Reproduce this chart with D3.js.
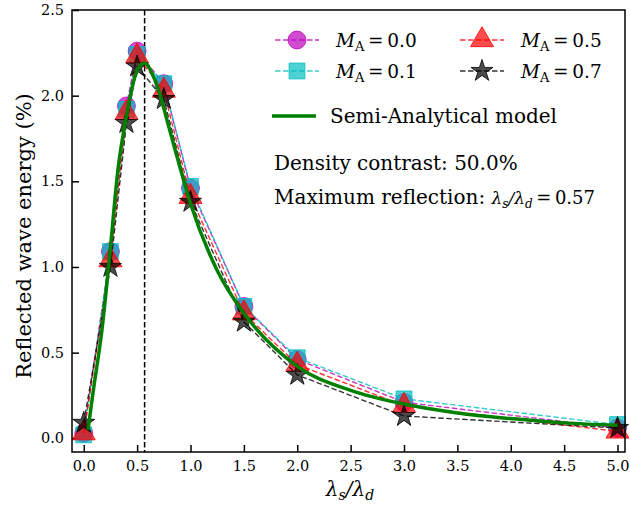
<!DOCTYPE html>
<html>
<head>
<meta charset="utf-8">
<script src="https://cdn.jsdelivr.net/npm/d3@7"></script>
<style>
  body { margin: 0; background: #fff; }
  svg text { font-family: "DejaVu Serif", serif; fill: #000; }
</style>
</head>
<body>
<div id="chart"></div>
<script>
// ---- data ----
const xs = [0.0, 0.25, 0.4, 0.5, 0.75, 1.0, 1.5, 2.0, 3.0, 5.0];

const ma00 = [0.03, 1.09, 1.94, 2.26, 2.07, 1.46, 0.77, 0.46, 0.21, 0.06];
const ma01 = [0.02, 1.09, 1.92, 2.24, 2.07, 1.47, 0.77, 0.47, 0.23, 0.08];
const ma05 = [0.03, 1.04, 1.90, 2.23, 2.03, 1.41, 0.73, 0.43, 0.19, 0.04];
const ma07 = [0.09, 1.00, 1.84, 2.17, 1.98, 1.38, 0.68, 0.37, 0.13, 0.06];

// semi-analytical model curve
const modelX = [0.04, 0.09, 0.17, 0.245, 0.32, 0.40, 0.48, 0.565, 0.68, 0.805, 0.90, 1.0, 1.25, 1.5, 2.0, 2.5, 3.0, 3.5, 4.0, 4.5, 5.0];
const modelY = [0.05, 0.28, 0.63, 1.08, 1.565, 1.88, 2.11, 2.19, 2.07, 1.80, 1.585, 1.37, 0.98, 0.73, 0.42, 0.28, 0.20, 0.148, 0.115, 0.09, 0.076];

const peakX = 0.57;
const xTicks = [0, 0.5, 1, 1.5, 2, 2.5, 3, 3.5, 4, 4.5, 5];
const yTicks = [0, 0.5, 1, 1.5, 2, 2.5];

const series = [
  { label: '0.0', values: ma00, color: '#bf00bf', symbol: d3.symbolCircle, size: 250 },
  { label: '0.1', values: ma01, color: '#00bfbf', symbol: d3.symbolSquare, size: 250 },
  { label: '0.5', values: ma05, color: '#ff0000', symbol: d3.symbolTriangle, size: 230 },
  { label: '0.7', values: ma07, color: '#000000', symbol: d3.symbolStar, size: 150 },
];

// ---- layout ----
const width = 630, height = 506;
const margin = { top: 10, right: 5, bottom: 54, left: 72 };

const svg = d3.select('#chart').append('svg').attr('width', width).attr('height', height);

const x = d3.scaleLinear().domain([-0.11, 5.07]).range([margin.left, width - margin.right]);
const y = d3.scaleLinear().domain([-0.08, 2.5]).range([height - margin.bottom, margin.top]);

// axes (ticks inward, left + bottom only)
const xAxis = svg.append('g')
  .attr('transform', `translate(0, ${height - margin.bottom})`)
  .call(d3.axisBottom(x).tickValues(xTicks).tickFormat(d3.format('.1f')).tickSizeInner(-7).tickSizeOuter(0).tickPadding(9));
const yAxis = svg.append('g')
  .attr('transform', `translate(${margin.left}, 0)`)
  .call(d3.axisLeft(y).tickValues(yTicks).tickFormat(d3.format('.1f')).tickSizeInner(-7).tickSizeOuter(0).tickPadding(8));

[xAxis, yAxis].forEach((g) => {
  g.select('.domain').remove();
  g.selectAll('.tick line').attr('stroke', '#000').attr('stroke-width', 1.5);
  g.selectAll('.tick text').style('font-size', '14.5px').style('font-family', '"DejaVu Serif", serif');
});

// vertical dashed line at max reflection
svg.append('line')
  .attr('x1', x(peakX)).attr('x2', x(peakX))
  .attr('y1', margin.top).attr('y2', height - margin.bottom)
  .attr('stroke', '#000').attr('stroke-width', 1.5).attr('stroke-dasharray', '5.5,2.5');

// simulation series
const line = d3.line().x((d) => x(d[0])).y((d) => y(d[1]));

series.forEach((s) => {
  const pts = xs.map((v, i) => [v, s.values[i]]);
  const g = svg.append('g');
  g.append('path')
    .attr('d', line(pts))
    .attr('fill', 'none')
    .attr('stroke', s.color)
    .attr('stroke-opacity', 0.8)
    .attr('stroke-width', 1.4)
    .attr('stroke-dasharray', '5.5,2.5');
  g.selectAll('path.mk')
    .data(pts)
    .enter()
    .append('path')
    .attr('class', 'mk')
    .attr('d', d3.symbol().type(s.symbol).size(s.size))
    .attr('transform', (d) => `translate(${x(d[0])}, ${y(d[1])})`)
    .attr('fill', s.color)
    .attr('fill-opacity', 0.7)
    .attr('stroke', s.color)
    .attr('stroke-opacity', 0.8)
    .attr('stroke-width', 1);
});

// semi-analytical model
svg.append('path')
  .attr('d', d3.line().curve(d3.curveMonotoneX).x((d) => x(d[0])).y((d) => y(d[1]))(modelX.map((v, i) => [v, modelY[i]])))
  .attr('fill', 'none')
  .attr('stroke', '#008000')
  .attr('stroke-width', 3.5);

// frame
svg.append('rect')
  .attr('x', margin.left).attr('y', margin.top)
  .attr('width', width - margin.left - margin.right)
  .attr('height', height - margin.top - margin.bottom)
  .attr('fill', 'none').attr('stroke', '#000').attr('stroke-width', 1.5);

// legend
function maLabel(sel, val) {
  sel.append('tspan').style('font-style', 'italic').text('M');
  sel.append('tspan').attr('dy', 4).style('font-size', '13px').text('A');
  sel.append('tspan').attr('dy', -4).text('\u2009=\u2009' + val);
}
const cols = [275, 460];
const rows = [40, 71];
series.forEach((s, i) => {
  const cx = cols[Math.floor(i / 2)];
  const cy = rows[i % 2];
  const g = svg.append('g').attr('transform', `translate(${cx}, ${cy})`);
  g.append('line').attr('x1', 0).attr('x2', 44).attr('y1', 0).attr('y2', 0)
    .attr('stroke', s.color).attr('stroke-opacity', 0.8).attr('stroke-width', 1.4).attr('stroke-dasharray', '5.5,2.5');
  g.append('path')
    .attr('d', d3.symbol().type(s.symbol).size(s.size))
    .attr('transform', 'translate(22, 0)')
    .attr('fill', s.color).attr('fill-opacity', 0.7)
    .attr('stroke', s.color).attr('stroke-opacity', 0.8);
  g.append('text').attr('x', 61).attr('y', 7).style('font-size', '18.5px').call(maLabel, s.label);
});
const mg = svg.append('g').attr('transform', 'translate(272, 116)');
mg.append('line').attr('x1', 0).attr('x2', 44).attr('stroke', '#008000').attr('stroke-width', 3.5);
mg.append('text').attr('x', 58).attr('y', 7).style('font-size', '20px').text('Semi-Analytical model');

// annotations
svg.append('text').attr('x', 274).attr('y', 170).style('font-size', '20px').text('Density contrast: 50.0%');
const ann = svg.append('text').attr('x', 274).attr('y', 204).style('font-size', '20px');
ann.append('tspan').text('Maximum reflection: ');
ann.append('tspan').style('font-style', 'italic').style('font-size', '17px').text('\u03bb');
ann.append('tspan').attr('dy', 4).style('font-size', '12px').style('font-style', 'italic').text('s');
ann.append('tspan').attr('dy', -4).style('font-size', '17px').style('font-style', 'italic').text('/\u03bb');
ann.append('tspan').attr('dy', 4).style('font-size', '12px').style('font-style', 'italic').text('d');
ann.append('tspan').attr('dy', -4).style('font-size', '18px').text('\u2009=\u20090.57');

// axis labels
const xl = svg.append('text').attr('x', 350).attr('y', 496).attr('text-anchor', 'middle').style('font-size', '20px');
xl.append('tspan').style('font-style', 'italic').text('\u03bb');
xl.append('tspan').attr('dy', 4).style('font-size', '14px').style('font-style', 'italic').text('s');
xl.append('tspan').attr('dy', -4).style('font-style', 'italic').text('/\u03bb');
xl.append('tspan').attr('dy', 4).style('font-size', '14px').style('font-style', 'italic').text('d');

svg.append('text')
  .attr('transform', 'translate(31, 236) rotate(-90)')
  .attr('text-anchor', 'middle')
  .style('font-size', '21px')
  .text('Reflected wave energy (%)');
</script>
</body>
</html>
